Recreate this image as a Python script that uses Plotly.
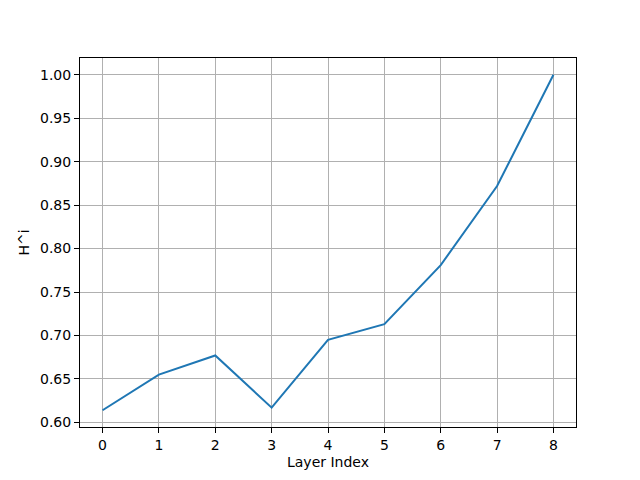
import plotly.graph_objects as go

layer_index = [0, 1, 2, 3, 4, 5, 6, 7, 8]
h_values = [0.614, 0.655, 0.677, 0.617, 0.695, 0.713, 0.781, 0.872, 1.000]

fig = go.Figure()
fig.add_trace(go.Scatter(x=layer_index, y=h_values, mode="lines",
                         line=dict(color="#1f77b4", width=2)))

axis_style = dict(showline=True, linecolor="black", linewidth=1, mirror=True,
                  ticks="outside", ticklen=5, tickcolor="black",
                  showgrid=True, gridcolor="#b0b0b0", gridwidth=1,
                  zeroline=False, tickfont=dict(size=14, color="black"),
                  title_font=dict(size=14, color="black"))

ymin, ymax = min(h_values), max(h_values)
pad = (ymax - ymin) * 0.05

fig.update_xaxes(axis_style, title_text="Layer Index", range=[-0.4, 8.4],
                 tickvals=layer_index, title_standoff=5)
fig.update_yaxes(axis_style, title_text="H^i", range=[ymin - pad, ymax + pad],
                 dtick=0.05, tickformat=".2f", title_standoff=7)

# page body has an 8px margin, so shift the plot area back
fig.update_layout(width=640, height=480, plot_bgcolor="white", paper_bgcolor="white",
                  font=dict(family="DejaVu Sans"), showlegend=False,
                  margin=dict(l=72, r=72, t=50, b=61))

fig.write_html("out.html")
